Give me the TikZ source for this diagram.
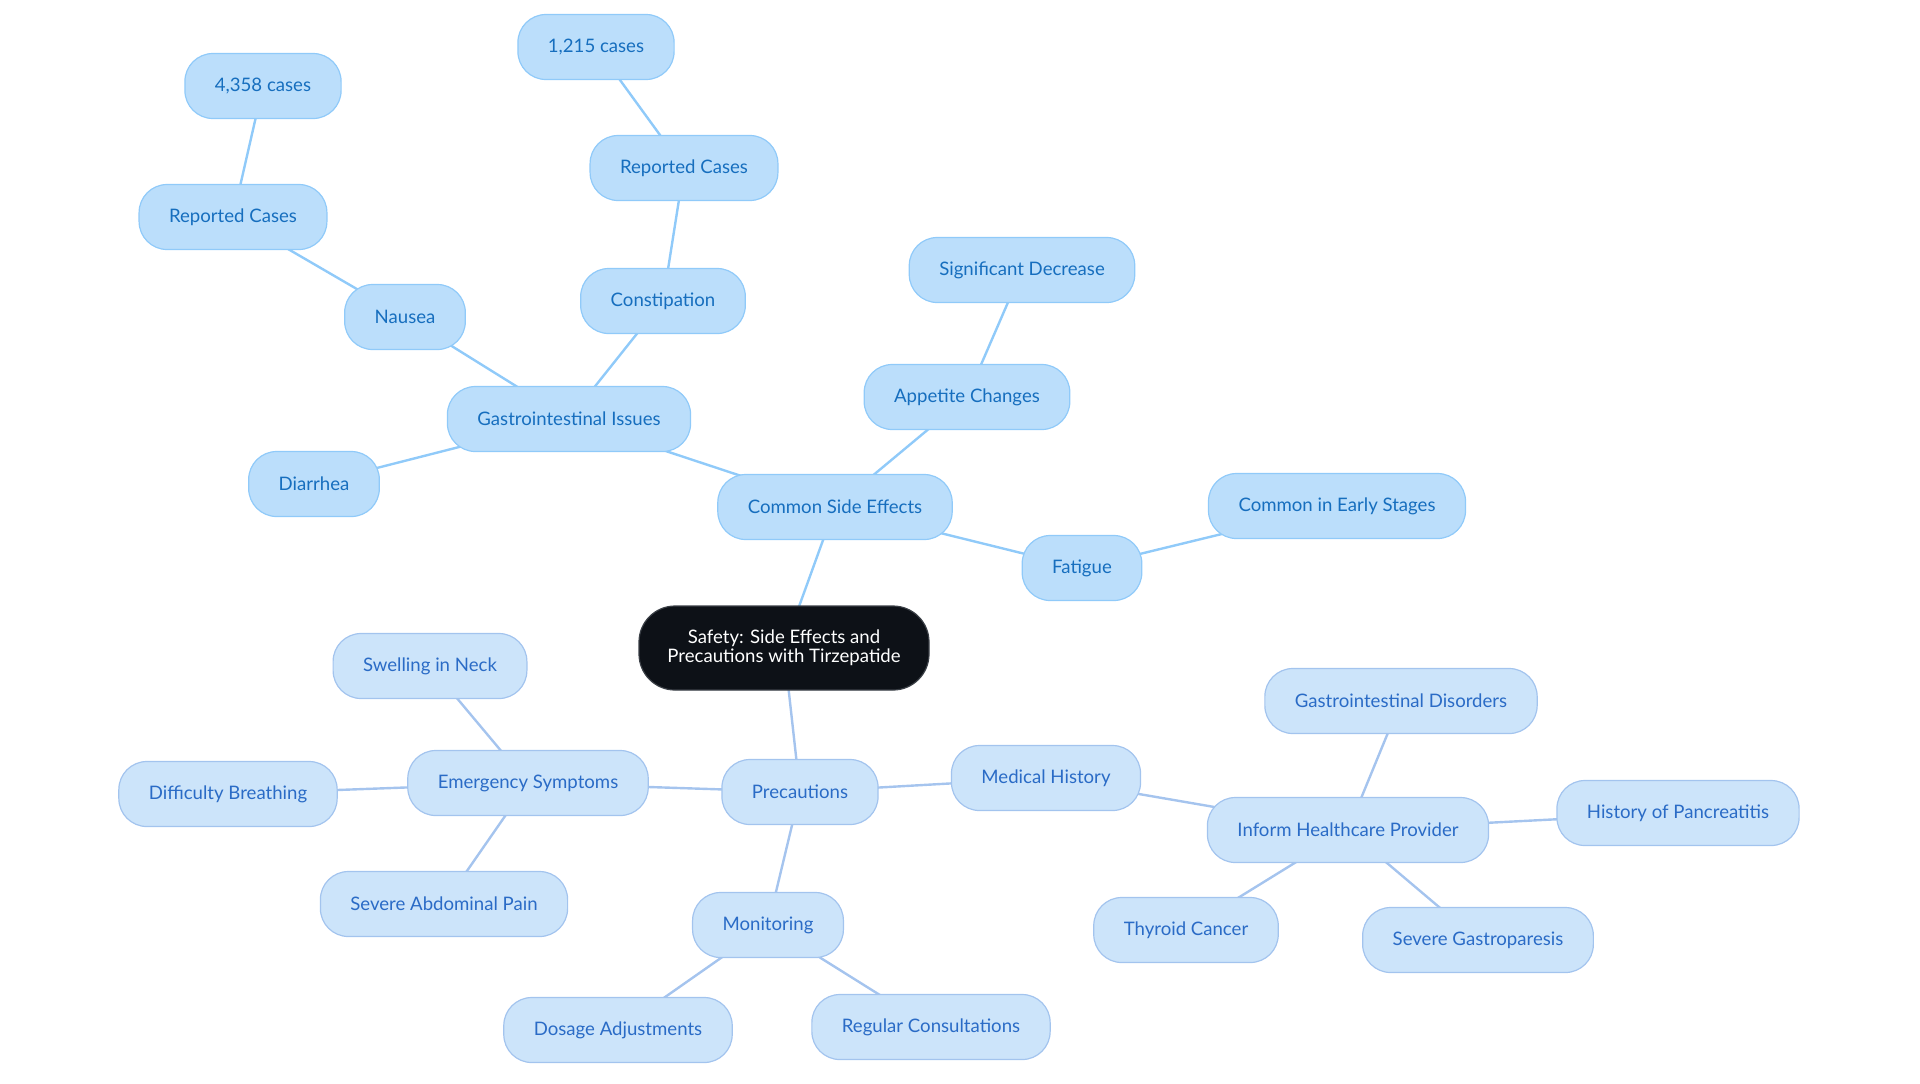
\documentclass[tikz,border=0pt]{standalone}
\usepackage{fontspec}
\setmainfont{Lato}
\usetikzlibrary{backgrounds}
\begin{document}
\begin{tikzpicture}[x=0.5pt,y=-0.5pt,
  topnode/.style={draw=topborder, fill=topfill, text=toptext, rounded corners=14pt, line width=0.6pt,
    inner xsep=15pt, minimum height=32.5pt, font=\fontsize{9.3}{10}\selectfont},
  botnode/.style={draw=botborder, fill=botfill, text=bottext, rounded corners=14pt, line width=0.6pt,
    inner xsep=15pt, minimum height=32.5pt, font=\fontsize{9.3}{10}\selectfont},
  rootnode/.style={draw=rootborder, fill=rootfill, text=white, rounded corners=18pt, line width=0.6pt,
    minimum width=145pt, minimum height=42pt, align=center, font=\fontsize{9.3}{9.4}\selectfont},
  topedge/.style={draw=topline, line width=1.2pt},
  botedge/.style={draw=botline, line width=1.2pt}]
\definecolor{topfill}{HTML}{BBDEFB}
\definecolor{topborder}{HTML}{90CAF9}
\definecolor{toptext}{HTML}{166EBE}
\definecolor{topline}{HTML}{90CAF9}
\definecolor{botfill}{HTML}{CCE4FA}
\definecolor{botborder}{HTML}{A3C4EE}
\definecolor{bottext}{HTML}{2A6BC6}
\definecolor{botline}{HTML}{A5C4EE}
\definecolor{rootfill}{HTML}{0D1117}
\definecolor{rootborder}{HTML}{3A3F46}
\useasboundingbox (0,0) rectangle (1920,1083);

% nodes
\node[rootnode] (root) at (784,648) {Safety: Side Effects and\\Precautions with Tirzepatide};
\node[topnode] (cse) at (835,507) {Common Side Effects};
\node[topnode] (gi) at (569,419) {Gastrointestinal Issues};
\node[topnode] (diar) at (314,484) {Diarrhea};
\node[topnode] (naus) at (405,317) {Nausea};
\node[topnode] (rcl) at (233,217) {Reported Cases};
\node[topnode] (c4358) at (263,86) {4,358 cases};
\node[topnode] (const) at (663,301) {Constipation};
\node[topnode] (rct) at (684,168) {Reported Cases};
\node[topnode] (c1215) at (596,47) {1,215 cases};
\node[topnode] (app) at (967,397) {Appetite Changes};
\node[topnode] (sig) at (1022,270) {Significant Decrease};
\node[topnode] (fat) at (1082,568) {Fatigue};
\node[topnode] (early) at (1337,506) {Common in Early Stages};

\node[botnode] (prec) at (800,792) {Precautions};
\node[botnode] (emer) at (528,783) {Emergency Symptoms};
\node[botnode] (swell) at (430,666) {Swelling in Neck};
\node[botnode] (diff) at (228,794) {Difficulty Breathing};
\node[botnode] (abd) at (444,904) {Severe Abdominal Pain};
\node[botnode] (mon) at (768,925) {Monitoring};
\node[botnode] (dos) at (618,1030) {Dosage Adjustments};
\node[botnode] (reg) at (931,1027) {Regular Consultations};
\node[botnode] (med) at (1046,778) {Medical History};
\node[botnode] (inf) at (1348,830) {Inform Healthcare Provider};
\node[botnode] (gid) at (1401,701) {Gastrointestinal Disorders};
\node[botnode] (panc) at (1678,813) {History of Pancreatitis};
\node[botnode] (thy) at (1186,930) {Thyroid Cancer};
\node[botnode] (gastro) at (1478,940) {Severe Gastroparesis};

% edges
\begin{pgfonlayer}{background}
\path[topedge] (root.center) -- (cse.center);
\path[topedge] (cse.center) -- (gi.center);
\path[topedge] (gi.center) -- (diar.center);
\path[topedge] (gi.center) -- (naus.center);
\path[topedge] (naus.center) -- (rcl.center);
\path[topedge] (rcl.center) -- (c4358.center);
\path[topedge] (gi.center) -- (const.center);
\path[topedge] (const.center) -- (rct.center);
\path[topedge] (rct.center) -- (c1215.center);
\path[topedge] (cse.center) -- (app.center);
\path[topedge] (app.center) -- (sig.center);
\path[topedge] (cse.center) -- (fat.center);
\path[topedge] (fat.center) -- (early.center);

\path[botedge] (root.center) -- (prec.center);
\path[botedge] (prec.center) -- (emer.center);
\path[botedge] (emer.center) -- (swell.center);
\path[botedge] (emer.center) -- (diff.center);
\path[botedge] (emer.center) -- (abd.center);
\path[botedge] (prec.center) -- (mon.center);
\path[botedge] (mon.center) -- (dos.center);
\path[botedge] (mon.center) -- (reg.center);
\path[botedge] (prec.center) -- (med.center);
\path[botedge] (med.center) -- (inf.center);
\path[botedge] (inf.center) -- (gid.center);
\path[botedge] (inf.center) -- (panc.center);
\path[botedge] (inf.center) -- (thy.center);
\path[botedge] (inf.center) -- (gastro.center);
\end{pgfonlayer}
\end{tikzpicture}
\end{document}
